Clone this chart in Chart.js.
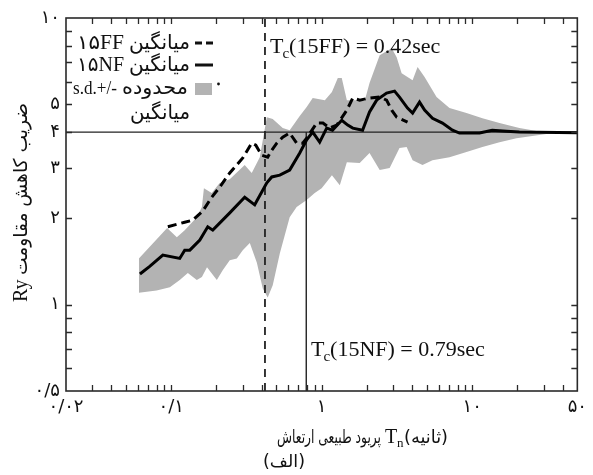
<!DOCTYPE html>
<html><head><meta charset="utf-8">
<script src="https://cdn.jsdelivr.net/npm/chart.js@4.4.1/dist/chart.umd.min.js"></script>
<style>html,body{margin:0;padding:0;background:#fff;}#wrap{width:593px;height:475px;}</style>
</head><body><div id="wrap"><canvas id="c" width="593" height="475"></canvas></div>
<script>
// ---- data ----
const xTickVals = [0.02, 0.1, 1, 10, 50];
const xTickText = ['۰/۰۲', '۰/۱', '۱', '۱۰', '۵۰'];
const yTickVals = [0.5, 1, 2, 3, 4, 5, 10];
const yTickText = ['۰/۵', '۱', '۲', '۳', '۴', '۵', '۱۰'];
const xMinorVals = [0.03,0.04,0.05,0.06,0.07,0.08,0.09,0.1,0.2,0.3,0.4,0.5,0.6,0.7,0.8,0.9,1,2,3,4,5,6,7,8,9,10,20,30,40];
const yMinorVals = [0.6,0.7,0.8,0.9,1,2,3,4,5,6,7,8,9];

const nfT  = [0.062,0.072,0.088,0.114,0.123,0.133,0.155,0.175,0.189,0.245,0.308,0.359,0.432,0.466,0.527,0.613,0.715,0.795,0.872,0.970,1.08,1.18,1.36,1.49,1.61,1.87,2.08,2.32,2.70,3.05,3.29,3.72,4.02,4.47,4.83,5.45,6.35,7.40,8.24,11.2,13.6,16.9,20.6,50];
const nfRy = [1.28,1.36,1.49,1.45,1.55,1.55,1.68,1.87,1.82,2.09,2.37,2.23,2.66,2.79,2.83,2.95,3.38,3.76,4.00,3.69,4.13,4.06,4.40,4.23,4.13,4.06,4.70,5.17,5.47,5.56,5.30,4.85,4.66,5.09,4.77,4.47,4.30,4.06,3.97,3.97,4.06,4.03,4.00,3.98];

const ffT  = [0.095,0.123,0.139,0.162,0.186,0.210,0.245,0.299,0.343,0.365,0.400,0.438,0.466,0.503,0.551,0.613,0.682,0.748,0.795,0.927,1.02,1.13,1.26,1.47,1.61,1.79,2.08,2.43,2.70,2.92,3.15,3.72];
const ffRy = [1.87,1.94,1.97,2.12,2.37,2.57,2.88,3.25,3.66,3.60,3.32,3.27,3.46,3.66,3.84,3.97,3.66,3.66,3.81,4.30,4.30,4.13,4.23,4.77,5.26,5.17,5.26,5.30,5.17,4.77,4.51,4.33];

const bandUpT  = [0.061,0.094,0.109,0.123,0.148,0.160,0.165,0.186,0.210,0.245,0.308,0.343,0.388,0.432,0.473,0.551,0.613,0.715,0.795,0.872,1.05,1.17,1.28,1.36,1.47,1.71,1.93,2.08,2.43,2.92,3.15,3.40,4.02,4.34,4.83,5.80,7.07,9.17,11.7,15.2,20.6,29.3,50];
const bandUpRy = [1.45,1.85,1.72,1.82,2.02,2.19,2.55,2.45,2.66,2.74,3.07,2.88,3.27,4.51,4.44,4.13,4.06,4.55,4.89,5.26,5.17,5.52,6.17,6.17,5.17,5.17,5.13,5.93,7.42,7.85,7.30,6.42,6.07,6.74,6.22,5.30,4.85,4.66,4.47,4.30,4.13,4.00,4.01];
const bandLoT  = [0.061,0.080,0.098,0.114,0.129,0.148,0.160,0.173,0.201,0.220,0.245,0.273,0.299,0.333,0.371,0.406,0.438,0.473,0.527,0.613,0.682,0.795,0.899,1.0,1.17,1.32,1.47,1.79,2.08,2.43,2.83,3.29,3.67,4.02,4.68,5.45,7.07,9.17,11.7,15.2,19.7,31.1,50];
const bandLoRy = [1.10,1.12,1.15,1.22,1.29,1.22,1.25,1.35,1.22,1.32,1.43,1.45,1.55,1.64,1.40,1.14,1.06,1.17,1.51,2.02,2.19,2.32,2.45,2.55,2.83,2.61,3.14,3.12,3.38,2.95,3.00,3.52,3.55,3.19,3.07,3.19,3.27,3.41,3.55,3.69,3.81,3.94,3.99];

const tcFF = 0.42, tcNF = 0.79, ryRef = 4;
const xMin = 0.02, xMax = 50, yMin = 0.5, yMax = 10;

// ---- build ----
const pts = (xs, ys) => xs.map((v, i) => ({x: v, y: ys[i]}));
const GRAY = '#b3b3b3';
const SERIF = '"Liberation Serif","DejaVu Sans",serif';
const FA = '"DejaVu Sans","Liberation Serif",sans-serif';

// draw text squeezed/stretched horizontally to a target width, right edge at xr
function fitText(ctx, txt, xr, yb, targetW, font, dir) {
  ctx.save();
  ctx.font = font; ctx.direction = dir; ctx.textAlign = 'left';
  const w = ctx.measureText(txt).width;
  ctx.translate(xr - targetW, yb); ctx.scale(targetW / w, 1);
  ctx.fillText(txt, 0, 0);
  ctx.restore();
}

const decor = {
  id: 'decor',
  afterDraw(chart) {
    const {ctx, chartArea: a, scales: {x, y}} = chart;
    ctx.save();
    // frame
    ctx.strokeStyle = '#2a2a2a'; ctx.lineWidth = 1.6;
    ctx.strokeRect(a.left, a.top, a.right - a.left, a.bottom - a.top);
    // inward ticks
    ctx.lineWidth = 1.3; ctx.beginPath();
    xMinorVals.forEach(v => { const p = Math.round(x.getPixelForValue(v)) + 0.5;
      ctx.moveTo(p, a.bottom); ctx.lineTo(p, a.bottom - 6); ctx.moveTo(p, a.top); ctx.lineTo(p, a.top + 6); });
    yMinorVals.forEach(v => { const p = Math.round(y.getPixelForValue(v)) + 0.5;
      ctx.moveTo(a.left, p); ctx.lineTo(a.left + 6, p); ctx.moveTo(a.right, p); ctx.lineTo(a.right - 6, p); });
    ctx.stroke();

    ctx.fillStyle = '#111'; ctx.textBaseline = 'alphabetic';
    // legend
    fitText(ctx, 'میانگین', 190, 49, 61, '20px ' + FA, 'rtl');
    fitText(ctx, '۱۵FF', 124, 49, 47, '20px ' + SERIF, 'ltr');
    fitText(ctx, 'میانگین', 190, 71, 61, '20px ' + FA, 'rtl');
    fitText(ctx, '۱۵NF', 124, 71, 47, '20px ' + SERIF, 'ltr');
    fitText(ctx, 'محدوده', 188, 94, 66, '20px ' + FA, 'rtl');
    fitText(ctx, 's.d.+/-', 117, 94, 44, '19px ' + SERIF, 'ltr');
    fitText(ctx, 'میانگین', 190, 119, 60, '20px ' + FA, 'rtl');
    ctx.strokeStyle = '#111'; ctx.lineWidth = 3;
    ctx.beginPath(); ctx.moveTo(195, 43); ctx.lineTo(202, 43); ctx.moveTo(206, 43); ctx.lineTo(213, 43); ctx.stroke();
    ctx.beginPath(); ctx.moveTo(195, 65); ctx.lineTo(213, 65); ctx.stroke();
    ctx.fillStyle = GRAY; ctx.fillRect(195, 83, 17, 12);
    ctx.fillStyle = '#111'; ctx.beginPath(); ctx.arc(218.5, 84, 1.4, 0, Math.PI * 2); ctx.fill();

    // Tc annotations
    const tc = (xl, yb, rest) => {
      ctx.direction = 'ltr'; ctx.textAlign = 'left';
      ctx.font = '22px ' + SERIF; ctx.fillText('T', xl, yb);
      let w = ctx.measureText('T').width;
      ctx.font = '15px ' + SERIF; ctx.fillText('c', xl + w - 1, yb + 5);
      w += ctx.measureText('c').width - 1;
      ctx.font = '22px ' + SERIF; ctx.fillText(rest, xl + w, yb);
    };
    tc(270, 53, '(15FF) = 0.42sec');
    tc(311, 356, '(15NF) = 0.79sec');

    // y title (rotated)
    ctx.save(); ctx.rotate(-Math.PI / 2);
    ctx.textBaseline = 'middle';
    fitText(ctx, 'ضریب کاهش مقاومت', -103, 22, 172, '19px ' + FA, 'rtl');
    ctx.direction = 'ltr'; ctx.textAlign = 'left'; ctx.font = '20px ' + SERIF;
    ctx.fillText('Ry', -302, 22);
    ctx.restore();

    // x title
    ctx.textBaseline = 'alphabetic';
    fitText(ctx, 'پریود طبیعی ارتعاش', 381, 443, 104, '18px ' + FA, 'rtl');
    ctx.direction = 'ltr'; ctx.textAlign = 'left'; ctx.font = '20px ' + SERIF;
    ctx.fillText('T', 385, 443);
    ctx.font = '13px ' + SERIF; ctx.fillText('n', 397, 447);
    fitText(ctx, '(ثانیه)', 448, 443, 44, '18px ' + FA, 'rtl');
    fitText(ctx, '(الف)', 305, 467, 42, '17px ' + FA, 'rtl');
    ctx.restore();
  }
};

new Chart(document.getElementById('c'), {
  type: 'line',
  data: {
    datasets: [
      {data: pts(bandUpT, bandUpRy), borderWidth: 0, borderColor: GRAY, backgroundColor: GRAY, fill: '+1', order: 10},
      {data: pts(bandLoT, bandLoRy), borderWidth: 0, borderColor: GRAY, backgroundColor: GRAY, fill: false, order: 10},
      {data: [{x: xMin, y: ryRef}, {x: xMax, y: ryRef}], borderColor: '#222', borderWidth: 1.4, fill: false, order: 5},
      {data: [{x: tcFF, y: yMin}, {x: tcFF, y: yMax}], borderColor: '#222', borderWidth: 1.8, borderDash: [8, 6], fill: false, order: 5},
      {data: [{x: tcNF, y: yMin}, {x: tcNF, y: ryRef}], borderColor: '#222', borderWidth: 1.4, fill: false, order: 5},
      {data: pts(nfT, nfRy), borderColor: '#000', borderWidth: 3, fill: false, order: 1},
      {data: pts(ffT, ffRy), borderColor: '#000', borderWidth: 3, borderDash: [9, 5], fill: false, order: 1}
    ]
  },
  options: {
    responsive: false, animation: false, devicePixelRatio: 1,
    layout: {padding: {left: 0, right: 15, top: 18, bottom: 0}},
    elements: {point: {radius: 0, hoverRadius: 0}, line: {tension: 0}},
    plugins: {legend: {display: false}, tooltip: {enabled: false}},
    scales: {
      x: {type: 'logarithmic', min: xMin, max: xMax, position: 'bottom',
        grid: {display: false, drawTicks: false}, border: {display: false},
        afterBuildTicks: s => { s.ticks = xTickVals.map(v => ({value: v})); },
        afterFit: s => { s.height = 84; },
        ticks: {autoSkip: false, maxRotation: 0, padding: 6, color: '#111',
          font: {size: 18, family: FA},
          callback: v => xTickText[xTickVals.indexOf(v)]}},
      y: {type: 'logarithmic', min: yMin, max: yMax,
        grid: {display: false, drawTicks: false}, border: {display: false},
        afterBuildTicks: s => { s.ticks = yTickVals.map(v => ({value: v})); },
        afterFit: s => { s.width = 66; },
        ticks: {autoSkip: false, padding: 6, color: '#111',
          font: {size: 18, family: FA},
          callback: v => yTickText[yTickVals.indexOf(v)]}}
    }
  },
  plugins: [decor]
});
</script></body></html>
